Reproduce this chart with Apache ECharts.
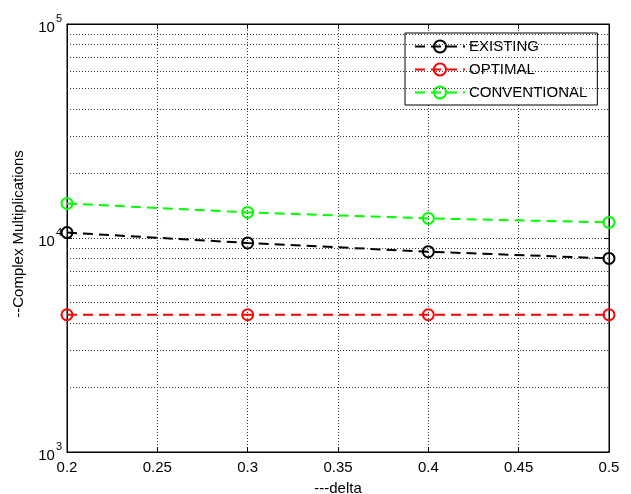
<!DOCTYPE html>
<html>
<head>
<meta charset="utf-8">
<script src="https://cdn.jsdelivr.net/npm/echarts@6/dist/echarts.min.js"></script>
<style>
  html, body { margin: 0; padding: 0; background: #fff; }
  #chart { width: 631px; height: 494px; }
</style>
</head>
<body>
<div id="chart"></div>
<script>
// delta values on the x axis
const deltas = [0.2, 0.3, 0.4, 0.5];

// complex multiplications
const existing = [10600, 9480, 8630, 8030];
const optimal = [4380, 4380, 4380, 4380];
const conventional = [14500, 13170, 12350, 11830];

// minor log gridlines (2..9 per decade)
const minorLines = [2000, 3000, 4000, 5000, 6000, 7000, 8000, 9000,
  20000, 30000, 40000, 50000, 60000, 70000, 80000, 90000];

const font = "'Liberation Sans', Arial, sans-serif";
const gridDot = { color: '#333', width: 1, type: [1, 2] };

const pairs = (vals) => deltas.map((d, i) => [d, vals[i]]);

const lineSeries = (name, color, vals) => ({
  name,
  type: 'line',
  data: pairs(vals),
  symbol: 'circle',
  symbolSize: 11,
  itemStyle: { color: 'transparent', borderColor: color, borderWidth: 2 },
  lineStyle: { color, width: 2, type: [10, 6] },
  emphasis: { disabled: true }
});

const chart = echarts.init(document.getElementById('chart'));

chart.setOption({
  animation: false,
  textStyle: { fontFamily: font },
  grid: {
    left: 67, right: 22, top: 24, bottom: 42,
    outerBoundsMode: 'none',
    containLabel: false,
    show: true, borderColor: '#000', borderWidth: 1
  },
  legend: {
    orient: 'vertical',
    left: 405,
    top: 33,
    width: 197,
    padding: [6, 10, 5, 9],
    itemGap: 8,
    itemWidth: 50,
    itemHeight: 15,
    backgroundColor: '#fff',
    borderColor: '#000',
    borderWidth: 1,
    borderRadius: 0,
    textStyle: { color: '#000', fontSize: 15, fontFamily: font, padding: [0, 0, 0, -1] },
    data: ['EXISTING', 'OPTIMAL', 'CONVENTIONAL']
  },
  xAxis: [
    {
      type: 'value',
      min: 0.2,
      max: 0.5,
      interval: 0.05,
      name: '---delta',
      nameLocation: 'middle',
      nameGap: 29,
      nameTextStyle: { color: '#000', fontSize: 15, fontFamily: font },
      axisLine: { lineStyle: { color: '#000' } },
      axisTick: { inside: true, length: 5, lineStyle: { color: '#000' } },
      axisLabel: { color: '#000', fontSize: 15, margin: 8, fontFamily: font },
      splitLine: { show: true, lineStyle: gridDot }
    },
    {
      type: 'value',
      position: 'top',
      min: 0.2,
      max: 0.5,
      interval: 0.05,
      axisLine: { lineStyle: { color: '#000' } },
      axisTick: { inside: true, length: 5, lineStyle: { color: '#000' } },
      axisLabel: { show: false },
      splitLine: { show: false }
    }
  ],
  yAxis: [
    {
      type: 'log',
      logBase: 10,
      min: 1000,
      max: 100000,
      name: '--Complex Multiplications',
      nameLocation: 'middle',
      nameGap: 41,
      nameTextStyle: { color: '#000', fontSize: 15, fontFamily: font, padding: [0, 0, 0, 8] },
      axisLine: { lineStyle: { color: '#000' } },
      axisTick: { inside: true, length: 5, lineStyle: { color: '#000' } },
      axisLabel: {
        margin: 5,
        formatter: (v) => '{b|10}{s|' + Math.round(Math.log10(v)) + '}',
        rich: {
          b: { fontSize: 15, color: '#000', fontFamily: font, verticalAlign: 'bottom', padding: [0, 0, 0, 0] },
          s: { fontSize: 11, color: '#000', fontFamily: font, verticalAlign: 'bottom', padding: [0, 0, 11, 1] }
        }
      },
      splitLine: { show: true, lineStyle: gridDot }
    },
    {
      type: 'log',
      logBase: 10,
      min: 1000,
      max: 100000,
      position: 'right',
      axisLine: { lineStyle: { color: '#000' } },
      axisTick: { inside: true, length: 5, lineStyle: { color: '#000' } },
      axisLabel: { show: false },
      splitLine: { show: false }
    }
  ],
  series: [
    {
      name: 'minor',
      type: 'line',
      data: [],
      silent: true,
      markLine: {
        silent: true,
        symbol: 'none',
        label: { show: false },
        lineStyle: gridDot,
        emphasis: { disabled: true },
        data: minorLines.map((v) => ({ yAxis: v }))
      }
    },
    lineSeries('EXISTING', '#000000', existing),
    lineSeries('OPTIMAL', '#ff0000', optimal),
    lineSeries('CONVENTIONAL', '#00ff00', conventional)
  ]
});
</script>
</body>
</html>
